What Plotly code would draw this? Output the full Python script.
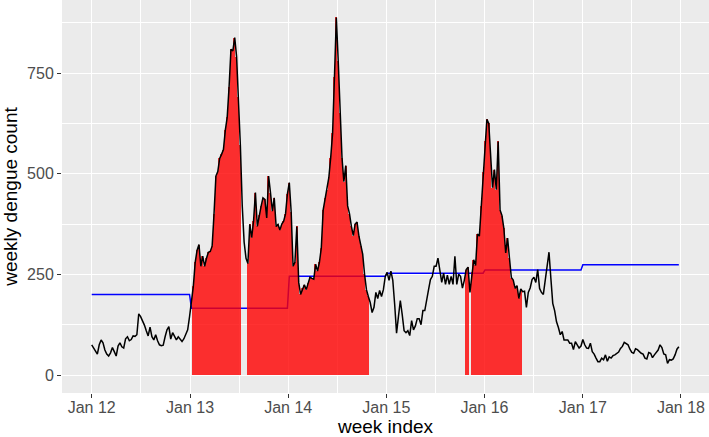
import pandas as pd
import plotly.graph_objects as go

# weekly dengue counts, one list per year (weeks start 2012-01-01, every 7 days)
counts_2012 = [75, 68, 60, 52, 75, 87, 80, 62, 52, 47, 55, 68, 58, 47, 72, 80, 70, 67, 90, 95,
               85, 88, 97, 96, 100, 152, 145, 135, 124, 110, 97, 119, 95, 87, 100, 85, 75, 73, 74, 95,
               112, 120, 89, 105, 95, 87, 95, 90, 83, 90, 100, 112, 145]
counts_2013 = [185, 220, 280, 310, 324, 270, 295, 270, 290, 305, 307, 320, 400, 494, 505, 538, 548, 560, 608, 640,
               715, 809, 805, 838, 790, 690, 570, 420, 330, 290, 277, 374, 341, 382, 453, 369, 398, 419, 440, 436,
               390, 494, 453, 407, 440, 369, 374, 360, 375, 382, 400, 450]
counts_2014 = [478, 405, 270, 280, 369, 230, 200, 215, 224, 212, 228, 243, 240, 238, 275, 258, 280, 315, 410, 440,
               460, 490, 540, 600, 740, 888, 780, 650, 540, 480, 520, 420, 400, 369, 346, 375, 380, 345, 320, 300,
               250, 212, 195, 180, 155, 168, 205, 190, 210, 195, 212, 245]
counts_2015 = [255, 235, 258, 235, 175, 104, 145, 185, 150, 110, 105, 110, 98, 135, 112, 122, 140, 140, 125, 160,
               160, 192, 212, 237, 245, 270, 270, 290, 258, 230, 253, 225, 248, 225, 245, 225, 295, 225, 250, 245,
               216, 235, 262, 268, 205, 255, 286, 272, 350, 345, 420, 505]
counts_2016 = [580, 635, 625, 550, 465, 510, 460, 580, 410, 396, 365, 303, 340, 290, 242, 236, 215, 222, 190, 214,
               207, 208, 168, 205, 216, 237, 243, 230, 262, 215, 205, 200, 237, 278, 305, 240, 178, 160, 132, 118,
               100, 108, 87, 87, 87, 79, 79, 63, 83, 75, 67, 72]
counts_2017 = [88, 75, 67, 66, 79, 58, 52, 42, 33, 33, 42, 38, 50, 34, 45, 42, 48, 50, 53, 57,
               66, 71, 81, 77, 75, 64, 56, 54, 65, 63, 58, 54, 52, 42, 40, 56, 54, 43, 50, 55,
               62, 75, 68, 52, 50, 29, 38, 37, 40, 50, 64, 70]

# yearly alert threshold
threshold_years = [2012, 2013, 2014, 2015, 2016, 2017]
threshold_values = [200, 166, 245, 253, 261, 274]

# outbreak periods (red bars)
outbreak_start = ["2013-01-13", "2013-08-04", "2015-10-25", "2015-11-15"]
outbreak_end = ["2013-07-07", "2014-10-26", "2015-11-01", "2016-05-15"]

year_ticks = ["2012-01-01", "2013-01-01", "2014-01-01", "2015-01-01", "2016-01-01", "2017-01-01", "2018-01-01"]
year_labels = ["Jan 12", "Jan 13", "Jan 14", "Jan 15", "Jan 16", "Jan 17", "Jan 18"]
mid_ticks = ["2012-07-02", "2013-07-02", "2014-07-02", "2015-07-02", "2016-07-02", "2017-07-02"]

counts = counts_2012 + counts_2013 + counts_2014 + counts_2015 + counts_2016 + counts_2017
weeks = pd.date_range("2012-01-01", periods=len(counts), freq="7D")
df = pd.DataFrame({"week": weeks, "count": counts})

thr = dict(zip(threshold_years, threshold_values))
df["threshold"] = df["week"].dt.year.map(thr)

df["outbreak"] = False
for s, e in zip(outbreak_start, outbreak_end):
    df.loc[(df["week"] >= s) & (df["week"] <= e), "outbreak"] = True
ob = df[df["outbreak"]]

fig = go.Figure()
fig.add_trace(go.Scatter(x=df["week"], y=df["threshold"], mode="lines",
                         line=dict(color="#0000FF", width=1.5), zorder=0))
fig.add_trace(go.Bar(x=ob["week"], y=ob["count"], width=0.8 * 7 * 86400000,
                     marker=dict(color="#FF0000", line_width=0), opacity=0.8, zorder=1))
fig.add_trace(go.Scatter(x=df["week"], y=df["count"], mode="lines",
                         line=dict(color="black", width=1.5), zorder=2))

axis_font = dict(family="Liberation Sans, Arial, sans-serif", size=16, color="#4D4D4D")
title_font = dict(family="Liberation Sans, Arial, sans-serif", size=19, color="black")

fig.update_layout(
    width=709, height=437,
    margin=dict(l=62, r=0, t=0, b=44),
    paper_bgcolor="white", plot_bgcolor="#EBEBEB",
    showlegend=False,
    xaxis=dict(
        type="date", range=["2011-09-12 12:00", "2018-04-15 05:00"],
        tickmode="array", tickvals=year_ticks, ticktext=year_labels,
        showgrid=True, gridcolor="white", gridwidth=1.2,
        minor=dict(tickmode="array", tickvals=mid_ticks, showgrid=True,
                   gridcolor="white", gridwidth=0.6, ticks=""),
        ticks="outside", ticklen=4, tickcolor="#333333", tickwidth=1,
        ticklabelstandoff=-4,
        tickfont=axis_font, zeroline=False, showline=False, automargin=False,
        title=dict(text="week index", font=title_font),
    ),
    yaxis=dict(
        range=[-44.7, 931.3],
        tickmode="array", tickvals=[0, 250, 500, 750],
        showgrid=True, gridcolor="white", gridwidth=1.2,
        minor=dict(tickmode="array", tickvals=[125, 375, 625, 875], showgrid=True,
                   gridcolor="white", gridwidth=0.6, ticks=""),
        ticks="outside", ticklen=4, tickcolor="#333333", tickwidth=1,
        tickfont=axis_font, zeroline=False, showline=False, automargin=False,
        title=dict(text="weekly dengue count", font=title_font),
    ),
    bargap=0,
)

fig.write_html("out.html", config={"displayModeBar": False},
               post_script="document.body.style.margin='0';")
